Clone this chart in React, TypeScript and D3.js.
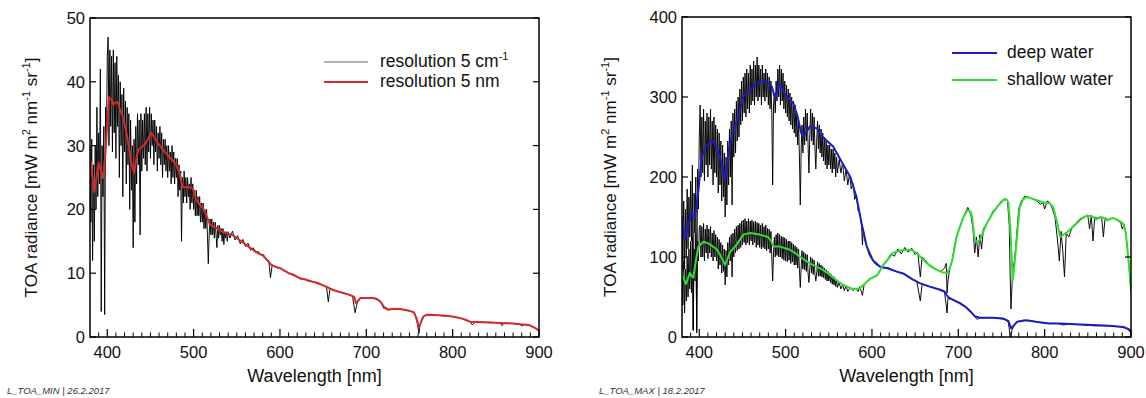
import React from 'react';
import * as d3 from 'd3';

// ---------- axes ----------
const wlDomain: [number, number] = [380, 900];
const xMajorTicks = [400, 500, 600, 700, 800, 900];
const minYTicks = [0, 10, 20, 30, 40, 50];
const maxYTicks = [0, 100, 200, 300, 400];

// ---------- L_TOA_MIN ----------
// high resolution (5 cm-1), 1 nm grid from 380 to 540 nm
const minFineStart = 380;
const minFineValues = [
  30, 18, 31, 12, 27, 15, 30, 20, 36, 22, 32, 24, 42, 4, 30, 22, 33, 3.5, 36, 30,
  44, 47, 30, 45, 33, 44, 29, 45, 32, 43, 28, 44, 33, 41, 25, 40, 30, 38, 22, 39,
  29, 37, 24, 36, 27, 35, 20, 34, 23, 30, 14, 31, 18, 33, 24, 35, 27, 34, 16, 35,
  26, 34, 28, 35, 27, 36, 26, 35, 29, 36, 28, 35, 30, 34, 27, 34, 29, 33, 26, 32,
  28, 33, 27, 32, 25, 31, 27, 31, 26, 30, 25, 30, 26, 29, 24, 30, 25, 29, 24, 28,
  25, 28, 22, 27, 23, 26, 15, 25, 21, 26, 22, 25, 21, 25, 22, 24, 20, 25, 21, 24,
  20, 23, 19, 23, 19, 22, 19, 22, 18, 21, 18, 21, 17, 20, 17, 20, 16, 11.5, 16, 18.5,
  16, 18.5, 16, 18, 15.5, 18, 16, 14, 17.5, 15.5, 17.5, 16, 17, 15, 17, 14.5, 16.5, 15.5, 16.5, 15,
  16.5,
];
const minSparse: [number, number][] = [
  [542, 15.5], [545, 16.6], [548, 15.2], [551, 15.9], [554, 14.6], [557, 15.3], [560, 14.2], [563, 14.7],
  [566, 13.6], [569, 14], [572, 13.2], [575, 13.4], [578, 12.8], [581, 12.9], [584, 12.1], [587, 12],
  [589, 9.3], [591, 11.3], [594, 11.1], [597, 10.8], [600, 10.9], [604, 10.4], [608, 10.2], [612, 9.9],
  [616, 9.6], [620, 9.5], [624, 9.1], [628, 9.1], [632, 8.8], [636, 8.7], [640, 8.6], [645, 8.3],
  [650, 8.1], [654, 7.8], [656, 5.5], [658, 7.6], [662, 7.4], [668, 7.1], [674, 6.9], [680, 6.6],
  [684, 6.4], [687, 3.8], [690, 5.7], [694, 6.1], [700, 6.2], [705, 6.1], [710, 6.0], [714, 5.7],
  [718, 5.3], [720, 4.5], [723, 4.6], [726, 4.2], [730, 4.4], [735, 4.4], [740, 4.4], [746, 4.2],
  [752, 4.0], [756, 3.7], [759, 2.2], [761, 0.6], [762, 1.8], [765, 3.0], [770, 3.5], [780, 3.4],
  [790, 3.3], [800, 3.2], [810, 2.9], [816, 2.6], [820, 2.4], [823, 1.9], [826, 2.4], [835, 2.3],
  [845, 2.3], [855, 2.2], [857, 1.8], [860, 2.2], [870, 2.1], [878, 2.0], [880, 1.7], [883, 2.0],
  [890, 1.8], [895, 1.4], [900, 1.0],
];
// resolution 5 nm
const minSmooth: [number, number][] = [
  [380, 28], [382, 26.2], [385, 22.7], [388, 25.5], [390, 27.3], [392, 26.3], [395, 24.9], [398, 29],
  [400, 33.5], [402, 37.6], [405, 37.2], [407, 36.4], [410, 36.8], [412, 36.8], [415, 35.6], [418, 34.5],
  [422, 32.2], [425, 29.8], [428, 27.3], [431, 25.7], [434, 28.2], [436, 29.3], [440, 29.8], [443, 30.1],
  [447, 31], [451, 32], [456, 30.9], [462, 29.8], [468, 28.8], [474, 27.9], [480, 27], [484, 25.5],
  [487, 23.5], [493, 23.5], [499, 23.3], [503, 21.5], [507, 20.8], [511, 20.2], [515, 19], [519, 17.6],
  [525, 17.2], [530, 16.8], [535, 16.4], [540, 16.2], [546, 15.9], [555, 15], [565, 14], [575, 13.1],
  [580, 12.8], [585, 12.1], [590, 11.3], [595, 11], [600, 10.8], [604, 10.5], [610, 10], [615, 9.8],
  [623, 9.2], [630, 9.0], [637, 8.7], [643, 8.5], [650, 8.1], [655, 7.8], [661, 7.4], [670, 7.0],
  [681, 6.6], [686, 6.3], [688, 5.3], [690, 5.6], [693, 6.1], [700, 6.1], [708, 6.1], [712, 6.0],
  [716, 5.6], [720, 4.8], [724, 4.3], [730, 4.4], [739, 4.4], [750, 4.1], [755, 3.9], [758, 3.0],
  [761, 1.5], [763, 2.2], [766, 3.2], [770, 3.5], [785, 3.4], [800, 3.2], [808, 3.0], [815, 2.7],
  [820, 2.4], [835, 2.3], [855, 2.2], [870, 2.1], [878, 2.0], [888, 1.9], [893, 1.6], [897, 1.3],
  [900, 1.0],
];

// ---------- L_TOA_MAX ----------
const maxFineStart = 380;
// deep water, high resolution, 1 nm grid 380..560
const deepFineValues = [
  150, 95, 170, 85, 160, 100, 185, 110, 175, 125, 195, 120, 215, 8, 180, 130, 200, 5, 210, 160,
  250, 290, 200, 275, 205, 285, 195, 270, 215, 280, 200, 275, 215, 285, 210, 270, 190, 275, 205, 265,
  200, 260, 180, 255, 190, 245, 170, 240, 175, 230, 150, 225, 165, 245, 190, 260, 200, 270, 165, 280,
  225, 285, 230, 295, 245, 300, 250, 310, 265, 320, 270, 325, 280, 330, 275, 335, 285, 330, 280, 340,
  290, 335, 295, 345, 290, 340, 300, 350, 295, 340, 300, 335, 290, 340, 300, 330, 295, 335, 300, 330,
  290, 325, 285, 320, 280, 190, 290, 305, 280, 320, 295, 335, 300, 340, 290, 335, 295, 330, 285, 320,
  280, 315, 275, 310, 270, 305, 265, 300, 260, 295, 255, 290, 250, 280, 240, 270, 225, 165, 235, 265,
  230, 275, 240, 285, 245, 280, 240, 205, 250, 285, 245, 280, 240, 275, 235, 210, 245, 270, 235, 265,
  230, 260, 225, 255, 220, 250, 215, 245, 210, 240, 215, 240, 210, 235, 205, 235, 210, 230, 200, 225,
  205,
];
const deepSparse: [number, number][] = [
  [562, 222], [564, 205], [566, 218], [568, 195], [570, 210], [572, 190], [574, 203], [576, 185],
  [578, 192], [580, 172], [582, 178], [584, 158], [586, 155], [588, 138], [589, 115], [590, 135],
  [592, 120], [594, 113], [597, 102], [600, 97], [604, 91], [609, 88], [614, 86], [618, 87],
  [623, 84], [628, 82], [633, 80], [637, 79], [642, 75], [647, 72], [652, 69], [656, 45],
  [658, 66], [663, 64], [670, 62], [676, 60], [680, 58], [684, 56], [686, 40], [687, 30],
  [688, 48], [692, 47], [697, 45], [702, 43], [708, 38], [714, 32], [719, 25], [722, 22],
  [725, 24], [732, 24], [740, 24], [748, 23], [755, 22], [758, 18], [760, 2], [761, 0],
  [762, 8], [764, 14], [768, 19], [775, 21], [785, 20], [795, 18], [805, 17], [815, 17],
  [822, 15], [826, 16], [835, 16], [845, 15], [856, 14], [866, 14], [876, 14], [885, 13],
  [891, 12.5], [896, 10], [900, 6],
];
// shallow water, high resolution, 1 nm grid 380..560
const shallowFineValues = [
  100, 40, 95, 30, 85, 45, 100, 50, 110, 60, 120, 55, 125, 10, 110, 70, 130, 8, 120, 95,
  135, 140, 100, 138, 100, 142, 95, 135, 105, 140, 98, 135, 105, 138, 100, 130, 95, 133, 100, 128,
  95, 125, 85, 122, 90, 118, 80, 115, 82, 110, 65, 108, 75, 118, 90, 125, 95, 128, 75, 130,
  100, 135, 105, 138, 108, 140, 110, 142, 112, 145, 115, 146, 118, 148, 115, 145, 118, 148, 115, 145,
  120, 146, 115, 144, 118, 145, 112, 143, 115, 142, 112, 140, 110, 142, 112, 138, 110, 140, 108, 136,
  110, 135, 105, 132, 100, 70, 105, 125, 100, 128, 102, 130, 100, 128, 100, 126, 98, 125, 96, 124,
  95, 122, 94, 120, 96, 120, 92, 118, 94, 116, 90, 114, 90, 112, 86, 110, 84, 62, 86, 108,
  85, 106, 84, 104, 82, 103, 80, 68, 85, 100, 80, 98, 78, 96, 78, 70, 80, 94, 76, 92,
  76, 90, 75, 88, 74, 86, 72, 84, 70, 82, 70, 80, 68, 78, 66, 76, 65, 74, 63, 72,
  62,
];
const shallowSparse: [number, number][] = [
  [562, 68], [564, 60], [566, 66], [568, 58], [570, 64], [572, 57], [575, 62], [578, 58],
  [581, 61], [584, 57], [586, 63], [589, 52], [591, 66], [595, 70], [600, 74], [605, 76],
  [610, 84], [614, 92], [618, 97], [622, 104], [626, 101], [630, 110], [634, 104], [638, 112],
  [642, 106], [646, 111], [650, 103], [653, 106], [656, 75], [658, 100], [662, 96], [666, 90],
  [670, 88], [675, 84], [680, 82], [684, 86], [686, 92], [687, 55], [688, 70], [690, 85],
  [693, 97], [697, 122], [700, 132], [704, 145], [708, 155], [711, 162], [713, 158], [715, 150],
  [717, 135], [719, 105], [721, 125], [723, 100], [725, 128], [727, 110], [729, 135], [733, 142],
  [737, 150], [740, 157], [745, 163], [750, 170], [754, 173], [757, 170], [759, 140], [760, 80],
  [761, 35], [762, 60], [763, 85], [765, 95], [767, 120], [770, 160], [773, 170], [777, 176],
  [781, 175], [785, 173], [790, 171], [795, 166], [798, 168], [800, 160], [803, 170], [806, 168],
  [809, 160], [812, 150], [815, 120], [817, 95], [819, 132], [821, 108], [823, 75], [825, 130],
  [828, 125], [832, 138], [836, 142], [840, 147], [845, 150], [850, 152], [852, 135], [854, 152],
  [856, 120], [858, 150], [862, 148], [866, 150], [868, 125], [870, 149], [874, 146], [879, 149],
  [884, 146], [888, 143], [890, 135], [892, 141], [894, 130], [896, 108], [898, 85], [900, 55],
];
const deepSmooth: [number, number][] = [
  [380, 150], [383.5, 121], [386, 134], [391, 155], [395, 150], [399, 184], [403, 225], [408, 238],
  [414, 246], [420, 238], [426, 217], [430, 197], [434, 234], [439, 255], [445, 275], [451, 300],
  [459, 309], [465, 316], [470, 319], [478, 319], [484, 313], [488, 298], [493, 317], [499, 304],
  [505, 296], [509, 292], [514, 275], [518, 255], [521, 251], [528, 263], [536, 261], [543, 250],
  [555, 238], [566, 217], [575, 200], [582, 175], [588, 142], [594, 113], [601, 96], [609, 88],
  [618, 86], [628, 82], [637, 79], [647, 72], [656, 67], [667, 63], [679, 59], [684, 57],
  [688, 50], [693, 47], [702, 42], [708, 38], [714, 32], [719, 26], [725, 24], [740, 24],
  [752, 23], [758, 20], [761, 11], [764, 14], [768, 19], [779, 21], [790, 19], [805, 17],
  [818, 17], [835, 16], [856, 15], [875, 14], [891, 12.5], [897, 10], [900, 6],
];
const shallowSmooth: [number, number][] = [
  [380, 85], [381, 75], [384.6, 66], [389, 80], [393, 74], [396, 95], [399, 113], [405, 119],
  [410.5, 117], [416, 113], [420, 110], [424, 103], [430, 90], [435.6, 106], [443, 115], [451, 128],
  [459, 130], [470, 128], [480, 125], [484, 118], [486, 113], [493.5, 113], [505, 109], [511, 105],
  [517, 100], [528, 92], [543, 84], [551, 78], [559, 71], [567, 65], [575, 61], [580, 60],
  [586, 61], [592, 67], [598, 73], [606, 77], [613, 90], [618, 96], [624, 105], [632, 108],
  [641, 109], [647, 108], [652, 105], [658, 98], [664, 92], [670, 87], [675, 84], [681, 81],
  [687, 80], [690, 86], [693, 96], [698, 125], [702, 138], [706, 150], [711, 159], [714, 157],
  [716, 150], [719, 121], [722, 119], [725, 121], [729, 132], [733, 142], [740, 155], [746, 164],
  [752, 171], [756, 172], [758, 168], [760, 140], [762, 95], [763, 71], [765, 90], [768, 125],
  [771, 162], [775, 172], [779, 175], [785, 173], [791, 171], [800, 168], [806, 167], [810, 162],
  [814, 145], [818, 125], [822, 128], [826, 131], [831, 136], [837, 142], [843, 148], [849, 152],
  [856, 150], [860, 147], [864, 150], [868, 149], [872, 146], [879, 149], [885, 146], [891, 142],
  [894, 130], [896, 109], [898, 85], [900, 59],
];

const gridSeries = (start: number, values: number[], sparse: [number, number][]): [number, number][] =>
  values.map((v, i) => [start + i, v] as [number, number]).concat(sparse);

const FONT = "'Liberation Sans', Arial, Helvetica, sans-serif";

type LegendItem = { label: React.ReactNode; color: string; width: number };

type PanelProps = {
  id: string;
  left: number; right: number; top: number; bottom: number;
  yMax: number; yTicks: number[];
  blacks: [number, number][][];
  smooth: { data: [number, number][]; color: string }[];
  legend: { x1: number; x2: number; tx: number; ys: number[]; items: LegendItem[] };
  titleX: number;
  footer: string; footerX: number;
};

function Panel(p: PanelProps) {
  const x = d3.scaleLinear().domain(wlDomain).range([p.left, p.right]);
  const y = d3.scaleLinear().domain([0, p.yMax]).range([p.bottom, p.top]);
  const line = d3.line<[number, number]>().x(d => x(d[0])).y(d => y(d[1]));
  const minor = d3.range(390, 900, 10).filter(v => v % 100 !== 0);
  const cx = (p.left + p.right) / 2;
  const cy = (p.top + p.bottom) / 2 + 6;
  return (
    <g>
      <defs>
        <clipPath id={p.id}>
          <rect x={p.left} y={p.top} width={p.right - p.left} height={p.bottom - p.top} />
        </clipPath>
      </defs>
      <g clipPath={`url(#${p.id})`}>
        {p.blacks.map((b, i) => (
          <path key={i} d={line(b) || ''} fill="none" stroke="#000" strokeWidth={0.95} strokeLinejoin="miter" />
        ))}
        {p.smooth.map((s, i) => (
          <path key={i} d={line(s.data) || ''} fill="none" stroke={s.color} strokeWidth={2} strokeLinejoin="round" />
        ))}
      </g>
      <rect x={p.left} y={p.top} width={p.right - p.left} height={p.bottom - p.top} fill="none" stroke="#000" strokeWidth={1.5} />
      {minor.map(v => (
        <line key={'m' + v} x1={x(v)} x2={x(v)} y1={p.bottom} y2={p.bottom - 4.5} stroke="#000" strokeWidth={1} />
      ))}
      {xMajorTicks.map(v => (
        <g key={'M' + v}>
          <line x1={x(v)} x2={x(v)} y1={p.bottom} y2={p.bottom - 8} stroke="#000" strokeWidth={1.2} />
          <text x={x(v)} y={p.bottom + 21} textAnchor="middle" fontSize={16.5} fontFamily={FONT} fill="#111">{v}</text>
        </g>
      ))}
      {p.yTicks.map(v => (
        <g key={'y' + v}>
          <line x1={p.left} x2={p.left + 6} y1={y(v)} y2={y(v)} stroke="#000" strokeWidth={1.2} />
          <line x1={p.right} x2={p.right - 6} y1={y(v)} y2={y(v)} stroke="#000" strokeWidth={1.2} />
          <text x={p.left - 5} y={y(v) + 6} textAnchor="end" fontSize={16.5} fontFamily={FONT} fill="#111">{v}</text>
        </g>
      ))}
      <text x={cx} y={p.bottom + 45} textAnchor="middle" fontSize={18} fontFamily={FONT} fill="#111">Wavelength [nm]</text>
      <text transform={`translate(${p.titleX},${cy - 6}) rotate(-90)`} textAnchor="middle" fontSize={17} fontFamily={FONT} fill="#111">
        TOA radiance [mW m<tspan dy={-7} fontSize={11}>2</tspan><tspan dy={7}> nm</tspan>
        <tspan dy={-7} fontSize={11}>-1</tspan><tspan dy={7}> sr</tspan>
        <tspan dy={-7} fontSize={11}>-1</tspan><tspan dy={7}>]</tspan>
      </text>
      {p.legend.items.map((it, i) => (
        <g key={'l' + i}>
          <line x1={p.legend.x1} x2={p.legend.x2} y1={p.legend.ys[i]} y2={p.legend.ys[i]} stroke={it.color} strokeWidth={it.width} />
          <text x={p.legend.tx} y={p.legend.ys[i] + 5} fontSize={17.5} fontFamily={FONT} fill="#111">{it.label}</text>
        </g>
      ))}
      <text x={p.footerX} y={394} fontSize={9.5} fontStyle="italic" fontFamily={FONT} fill="#333">{p.footer}</text>
    </g>
  );
}

export default function App() {
  const minBlack = gridSeries(minFineStart, minFineValues, minSparse);
  const deepBlack = gridSeries(maxFineStart, deepFineValues, deepSparse);
  const shallowBlack = gridSeries(maxFineStart, shallowFineValues, shallowSparse);
  return (
    <svg width={1146} height={398} viewBox="0 0 1146 398"
      style={{ position: 'absolute', left: 0, top: 0, background: '#fff', display: 'block' }}>
      <rect x={0} y={0} width={1146} height={398} fill="#fff" />
      <Panel
        id="clipMin" left={90} right={539} top={18} bottom={337}
        yMax={50} yTicks={minYTicks}
        blacks={[minBlack]}
        smooth={[{ data: minSmooth, color: '#d42a2a' }]}
        legend={{
          x1: 324, x2: 368, tx: 380, ys: [62, 82],
          items: [
            { label: <>resolution 5 cm<tspan dy={-7} fontSize={11}>-1</tspan></>, color: '#999', width: 1.5 },
            { label: 'resolution 5 nm', color: '#d42a2a', width: 2 },
          ],
        }}
        titleX={37}
        footer="L_TOA_MIN | 26.2.2017" footerX={7}
      />
      <Panel
        id="clipMax" left={682} right={1131} top={17} bottom={337}
        yMax={400} yTicks={maxYTicks}
        blacks={[deepBlack, shallowBlack]}
        smooth={[{ data: deepSmooth, color: '#1c1cc0' }, { data: shallowSmooth, color: '#30dc30' }]}
        legend={{
          x1: 952, x2: 997, tx: 1007, ys: [53, 80],
          items: [
            { label: 'deep water', color: '#1c1cc0', width: 2 },
            { label: 'shallow water', color: '#30dc30', width: 2 },
          ],
        }}
        titleX={616}
        footer="L_TOA_MAX | 18.2.2017" footerX={599}
      />
    </svg>
  );
}
